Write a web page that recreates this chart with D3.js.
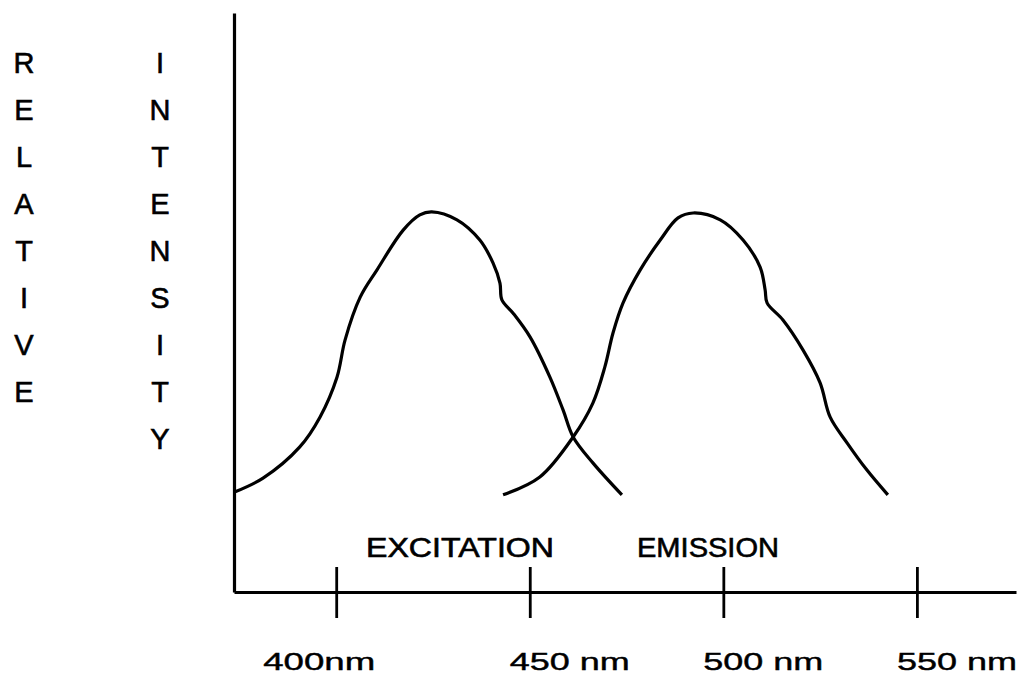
<!DOCTYPE html>
<html lang="en">
<head>
    <meta charset="UTF-8">
    <title>Excitation and emission</title>
    <script src="https://cdn.jsdelivr.net/npm/d3@7"></script>
    <style>
        body { margin: 0; background: #fff; }
        text { font-family: "Liberation Sans", Arial, sans-serif; fill: #000; stroke: #000; stroke-width: 0.6px; }
        text.tlabel { stroke-width: 0.4px; }
    </style>
</head>
<body>
    <script>
			//Width and height
			var w = 1024;
			var h = 683;

			//Wavelength (nm) and relative intensity
			var excitationNm = [373.9, 381.1, 390.6, 395.8, 400.2, 402.3, 406.2, 410.5, 417.3, 421.6, 424.7, 431.2, 437.1, 440.5, 442.3, 442.8, 445.7, 450.1, 455.2, 458.6, 461.2, 466.3, 473.8];
			var excitationVal = [26.3, 29.9, 38.1, 45.9, 56.4, 66.2, 77.4, 84.5, 95.0, 99.0, 99.8, 97.7, 92.4, 86.4, 81.1, 76.7, 73.2, 66.9, 56.4, 47.8, 40.7, 33.9, 25.5];

			var emissionNm = [443.1, 452.6, 461.2, 466.3, 469.4, 471.5, 474.1, 478.5, 483.7, 488.3, 492.2, 499.2, 505.1, 509.5, 510.8, 511.3, 515.4, 520.6, 525.0, 527.6, 532.0, 537.1, 542.5];
			var emissionVal = [25.5, 30.2, 40.7, 49.6, 59.1, 68.0, 75.9, 84.5, 92.4, 98.2, 99.5, 97.7, 92.4, 85.3, 79.3, 75.9, 71.4, 63.5, 54.9, 45.9, 39.1, 32.0, 25.5];

			var tickValues = [400, 450, 500, 550];
			var tickLabels = ["400nm", "450 nm", "500 nm", "550 nm"];
			var seriesNames = ["EXCITATION", "EMISSION"];
			var yTitles = ["RELATIVE", "INTENSITY"];

			//Scales
			var xScale = d3.scaleLinear()
				.domain([373.6, 575.6])
				.range([234, 1016]);

			var yScale = d3.scaleLinear()
				.domain([0, 152])
				.range([592, 13]);

			//Create SVG element
			var svg = d3.select("body")
						.append("svg")
						.attr("width", w)
						.attr("height", h);

			//Curves
			var line = d3.line()
				.x(function(d) { return xScale(d[0]); })
				.y(function(d) { return yScale(d[1]); })
				.curve(d3.curveCatmullRom.alpha(0.5));

			var series = [
				d3.zip(excitationNm, excitationVal),
				d3.zip(emissionNm, emissionVal)
			];

			svg.selectAll("path.curve")
				.data(series)
				.enter()
				.append("path")
				.attr("class", "curve")
				.attr("d", line)
				.attr("fill", "none")
				.attr("stroke", "#000")
				.attr("stroke-width", 3.2)
				.attr("stroke-linejoin", "round");

			//X axis, ticks cross the line
			var xAxis = d3.axisBottom(xScale)
				.tickValues(tickValues)
				.tickSizeInner(26)
				.tickSizeOuter(0)
				.tickFormat("");

			var gx = svg.append("g")
				.attr("transform", "translate(0," + yScale(0) + ")")
				.call(xAxis);
			gx.select(".domain").attr("stroke-width", 3.2);
			gx.selectAll(".tick line")
				.attr("y1", -25)
				.attr("stroke-width", 2.8);

			//Y axis, plain line
			var yAxis = d3.axisLeft(yScale)
				.tickValues([])
				.tickSizeOuter(0);

			svg.append("g")
				.attr("transform", "translate(" + xScale.range()[0] + ",0)")
				.call(yAxis)
				.select(".domain")
				.attr("stroke-width", 3.2);

			//Tick labels
			svg.selectAll("text.tlabel")
				.data(tickValues)
				.enter()
				.append("text")
				.attr("class", "tlabel")
				.attr("x", function(d) { return xScale(d); })
				.attr("dx", function(d, i) { return i === 0 ? -73 : -20; })
				.attr("y", 670)
				.attr("font-size", 24)
				.attr("textLength", function(d, i) { return i === 0 ? 112 : 120; })
				.attr("lengthAdjust", "spacingAndGlyphs")
				.text(function(d, i) { return tickLabels[i]; });

			//Series names
			var namePos = [460, 708];
			var nameLen = [188, 142];
			svg.selectAll("text.sname")
				.data(seriesNames)
				.enter()
				.append("text")
				.attr("class", "sname")
				.attr("x", function(d, i) { return namePos[i] - nameLen[i] / 2; })
				.attr("y", 557)
				.attr("font-size", 27)
				.attr("textLength", function(d, i) { return nameLen[i]; })
				.attr("lengthAdjust", "spacingAndGlyphs")
				.text(function(d) { return d; });

			//Vertical titles, one letter per row
			var cols = svg.selectAll("g.ytitle")
				.data(yTitles)
				.enter()
				.append("g")
				.attr("class", "ytitle")
				.attr("transform", function(d, i) { return "translate(" + (i === 0 ? 24 : 160) + ",0)"; });

			cols.selectAll("text")
				.data(function(d) { return d.split(""); })
				.enter()
				.append("text")
				.attr("x", 0)
				.attr("y", function(d, i) { return 73 + i * 47; })
				.attr("text-anchor", "middle")
				.attr("font-size", 29)
				.text(function(d) { return d; });
    </script>
</body>
</html>
